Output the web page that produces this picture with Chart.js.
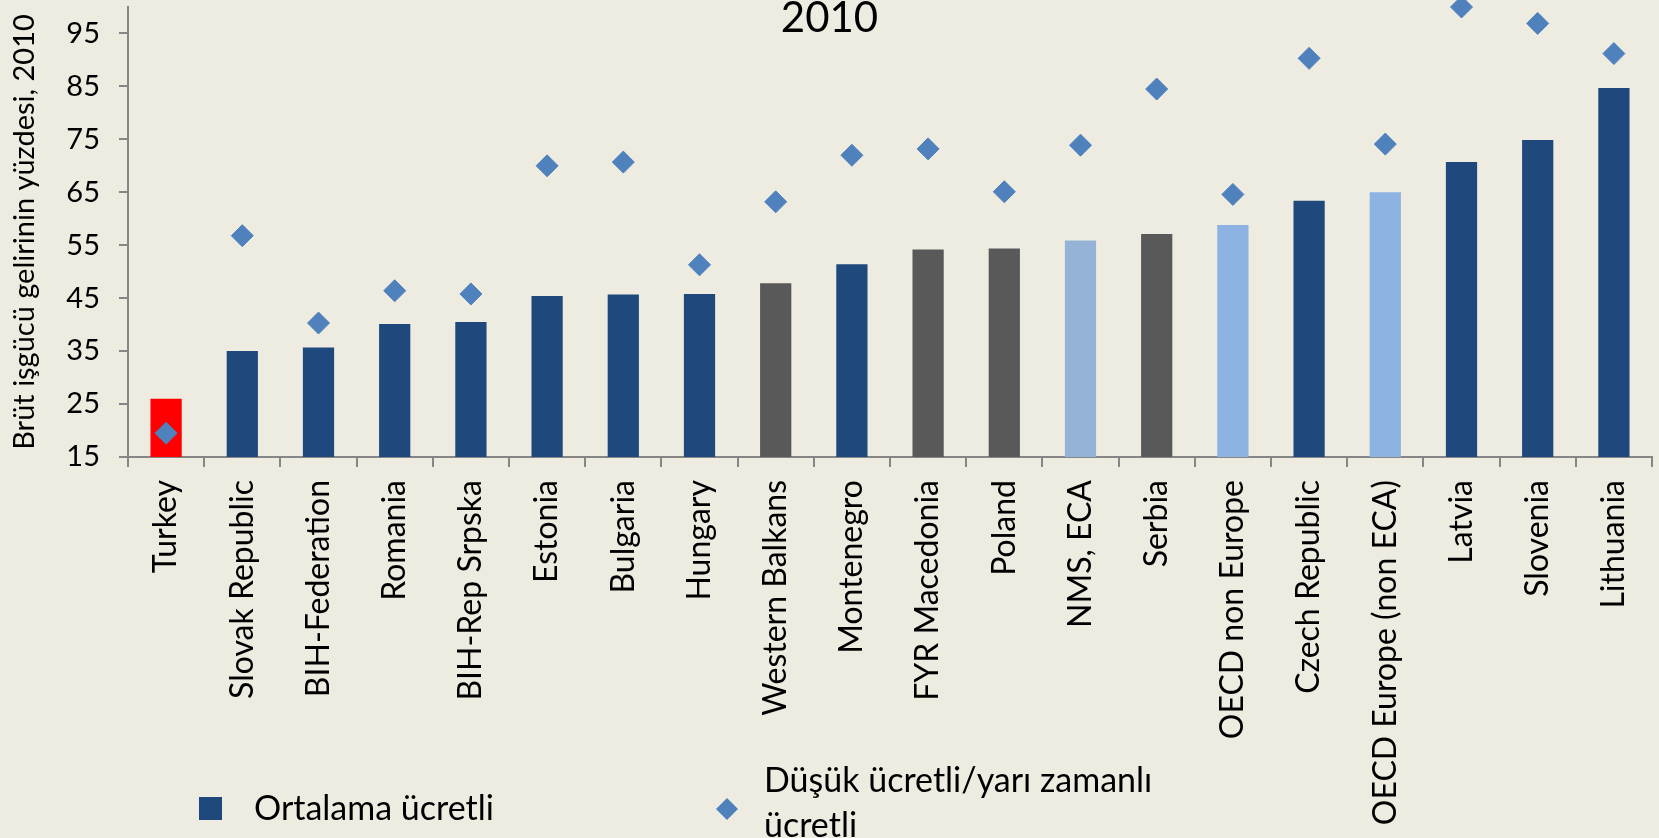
<!DOCTYPE html>
<html>
<head>
<meta charset="utf-8">
<script src="https://cdn.jsdelivr.net/npm/chart.js@4.4.1/dist/chart.umd.min.js"></script>
<style>
html, body { margin: 0; padding: 0; background: #EEECE1; }
#wrap { width: 1659px; height: 838px; position: relative; }
</style>
</head>
<body>
<div id="wrap"><canvas id="c" width="1659" height="838"></canvas></div>
<script>
// ---- Data ----
const categories = [
  'Turkey', 'Slovak Republic', 'BIH-Federation', 'Romania', 'BIH-Rep Srpska',
  'Estonia', 'Bulgaria', 'Hungary', 'Western Balkans', 'Montenegro',
  'FYR Macedonia', 'Poland', 'NMS, ECA', 'Serbia', 'OECD non Europe',
  'Czech Republic', 'OECD Europe (non ECA)', 'Latvia', 'Slovenia', 'Lithuania'
];
const averageWage = [
  26.0, 35.0, 35.7, 40.1, 40.5,
  45.4, 45.7, 45.8, 47.8, 51.4,
  54.2, 54.4, 55.9, 57.1, 58.8,
  63.4, 65.0, 70.7, 74.9, 84.7
];
const lowWage = [
  19.5, 56.8, 40.3, 46.4, 45.8,
  70.0, 70.7, 51.3, 63.2, 72.0,
  73.2, 65.1, 73.9, 84.5, 64.6,
  90.3, 74.1, 100.0, 96.9, 91.2
];
// group of each category (drives bar colour)
const groups = [
  'turkey', 'country', 'country', 'country', 'country',
  'country', 'country', 'country', 'aggregate', 'country',
  'aggregate', 'aggregate', 'benchmark', 'aggregate', 'benchmark2',
  'country', 'benchmark2', 'country', 'country', 'country'
];
const yTicks = [15, 25, 35, 45, 55, 65, 75, 85, 95];
const yMin = 15, yMax = 100;
const chartTitle = '2010';
const yAxisTitle = 'Brüt işgücü gelirinin yüzdesi, 2010';
const seriesBarName = 'Ortalama ücretli';
const seriesPointName = ['Düşük ücretli/yarı zamanlı', 'ücretli'];

// ---- Styles ----
const FONT = 'Lato, "Open Sans", "DejaVu Sans", sans-serif';
const palette = {
  turkey: '#FF0000',
  country: '#1F497D',
  aggregate: '#595959',
  benchmark: '#95B3D7',
  benchmark2: '#8DB3E2'
};
const pointColor = '#4F81BD';
const axisColor = '#868686';
const bgColor = '#EEECE1';

const bgPlugin = {
  id: 'bg',
  beforeDraw(chart) {
    const ctx = chart.ctx;
    ctx.save();
    ctx.fillStyle = bgColor;
    ctx.fillRect(0, 0, chart.width, chart.height);
    ctx.restore();
  }
};

const overlayPlugin = {
  id: 'overlay',
  afterDraw(chart) {
    const ctx = chart.ctx;
    ctx.save();
    // Title
    ctx.fillStyle = '#000';
    ctx.font = '42px ' + FONT;
    ctx.textAlign = 'center';
    ctx.textBaseline = 'middle';
    ctx.fillText(chartTitle, chart.width / 2, 18);

    // Legend
    ctx.textAlign = 'left';
    ctx.font = '34px ' + FONT;
    ctx.fillStyle = palette.country;
    ctx.fillRect(199, 797, 23, 23);
    ctx.fillStyle = '#000';
    ctx.fillText(seriesBarName, 254, 809);

    ctx.fillStyle = pointColor;
    ctx.beginPath();
    const cx = 727, cy = 809, r = 11;
    ctx.moveTo(cx, cy - r);
    ctx.lineTo(cx + r, cy);
    ctx.lineTo(cx, cy + r);
    ctx.lineTo(cx - r, cy);
    ctx.closePath();
    ctx.fill();
    ctx.fillStyle = '#000';
    ctx.fillText(seriesPointName[0], 764, 781);
    ctx.fillText(seriesPointName[1], 764, 826);
    ctx.restore();
  }
};

new Chart(document.getElementById('c'), {
  type: 'bar',
  data: {
    labels: categories,
    datasets: [
      {
        type: 'line',
        label: seriesPointName.join(' '),
        data: lowWage,
        showLine: false,
        pointStyle: 'rectRot',
        pointRadius: 11,
        pointHoverRadius: 11,
        pointBackgroundColor: pointColor,
        pointBorderColor: pointColor,
        pointBorderWidth: 1,
        clip: false,
        order: 0
      },
      {
        type: 'bar',
        label: seriesBarName,
        data: averageWage,
        backgroundColor: groups.map(g => palette[g]),
        borderWidth: 0,
        categoryPercentage: 1.0,
        barPercentage: 0.41,
        order: 1
      }
    ]
  },
  options: {
    responsive: false,
    animation: false,
    devicePixelRatio: 1,
    layout: { autoPadding: false, padding: { top: 7, right: 7, left: 0, bottom: 0 } },
    plugins: {
      legend: { display: false },
      title: { display: false },
      tooltip: { enabled: false }
    },
    scales: {
      x: {
        offset: true,
        grid: {
          display: true,
          drawOnChartArea: false,
          drawTicks: true,
          tickLength: 10,
          color: axisColor,
          lineWidth: 2,
          offset: true
        },
        border: { display: true, color: axisColor, width: 2 },
        ticks: {
          autoSkip: false,
          maxRotation: 90,
          minRotation: 90,
          padding: 13,
          color: '#000',
          font: { family: FONT, size: 32 }
        },
        afterFit(scale) {
          scale.height = 838 - 457;
          scale.paddingLeft = 0; scale.paddingRight = 0;
        }
      },
      y: {
        min: yMin,
        max: yMax,
        afterBuildTicks(scale) { scale.ticks = yTicks.map(v => ({ value: v })); },
        grid: {
          display: true,
          drawOnChartArea: false,
          drawTicks: true,
          tickLength: 9,
          color: axisColor,
          lineWidth: 2
        },
        border: { display: true, color: axisColor, width: 2 },
        ticks: {
          padding: 19,
          color: '#000',
          font: { family: FONT, size: 29 }
        },
        title: {
          display: true,
          text: yAxisTitle,
          color: '#000',
          font: { family: FONT, size: 29 },
          padding: { top: 7, bottom: 0 }
        },
        afterFit(scale) {
          scale.width = 128;
          scale.paddingTop = 0; scale.paddingBottom = 0;
        }
      }
    }
  },
  plugins: [bgPlugin, overlayPlugin]
});
</script>
</body>
</html>
